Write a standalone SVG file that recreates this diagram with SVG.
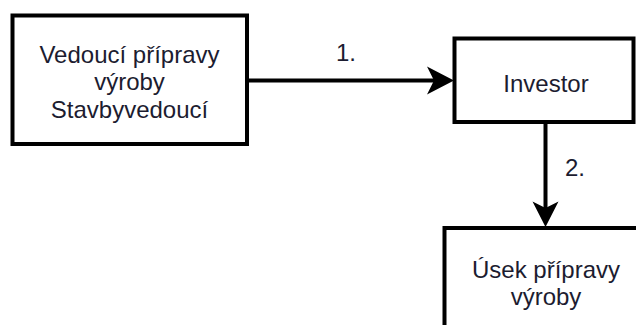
<svg xmlns="http://www.w3.org/2000/svg" width="636" height="325" viewBox="0 0 636 325">
  <style>
    .box { fill: #ffffff; stroke: #000000; stroke-width: 4; }
    .lbl { font-family: "Liberation Sans", Arial, sans-serif; font-size: 24px; fill: #1c1c30; text-anchor: middle; }
    .num { font-family: "Liberation Sans", Arial, sans-serif; font-size: 24px; fill: #1c1c30; }
    .edge { stroke: #000000; stroke-width: 4; fill: none; }
    .head { fill: #000000; }
  </style>
  <rect width="636" height="325" fill="#ffffff"/>

  <g id="connectors">
    <!-- 1. left box to Investor -->
    <line class="edge" x1="248" y1="80.5" x2="440" y2="80.5"/>
    <polygon class="head" points="454,80.5 427,66.5 434,80.5 427,94.5"/>
    <text class="num" x="336" y="61">1.</text>
    <!-- 2. Investor to lower box -->
    <line class="edge" x1="545.5" y1="123" x2="545.5" y2="214"/>
    <polygon class="head" points="545.5,227 532.5,201.5 545.5,208 558.5,201.5"/>
    <text class="num" x="565" y="176">2.</text>
  </g>

  <g id="node-vedouci">
    <rect class="box" x="12.5" y="15.5" width="234.5" height="128.5"/>
    <text class="lbl" x="129.5" y="63">Vedoucí přípravy</text>
    <text class="lbl" x="129.5" y="90">výroby</text>
    <text class="lbl" x="129.5" y="117.5">Stavbyvedoucí</text>
  </g>

  <g id="node-investor">
    <rect class="box" x="454.5" y="38.5" width="179" height="83.5"/>
    <text class="lbl" x="546" y="91.5">Investor</text>
  </g>

  <g id="node-usek">
    <rect class="box" x="444.5" y="228" width="200" height="110"/>
    <text class="lbl" x="546" y="278">Úsek přípravy</text>
    <text class="lbl" x="546" y="305">výroby</text>
  </g>
</svg>
